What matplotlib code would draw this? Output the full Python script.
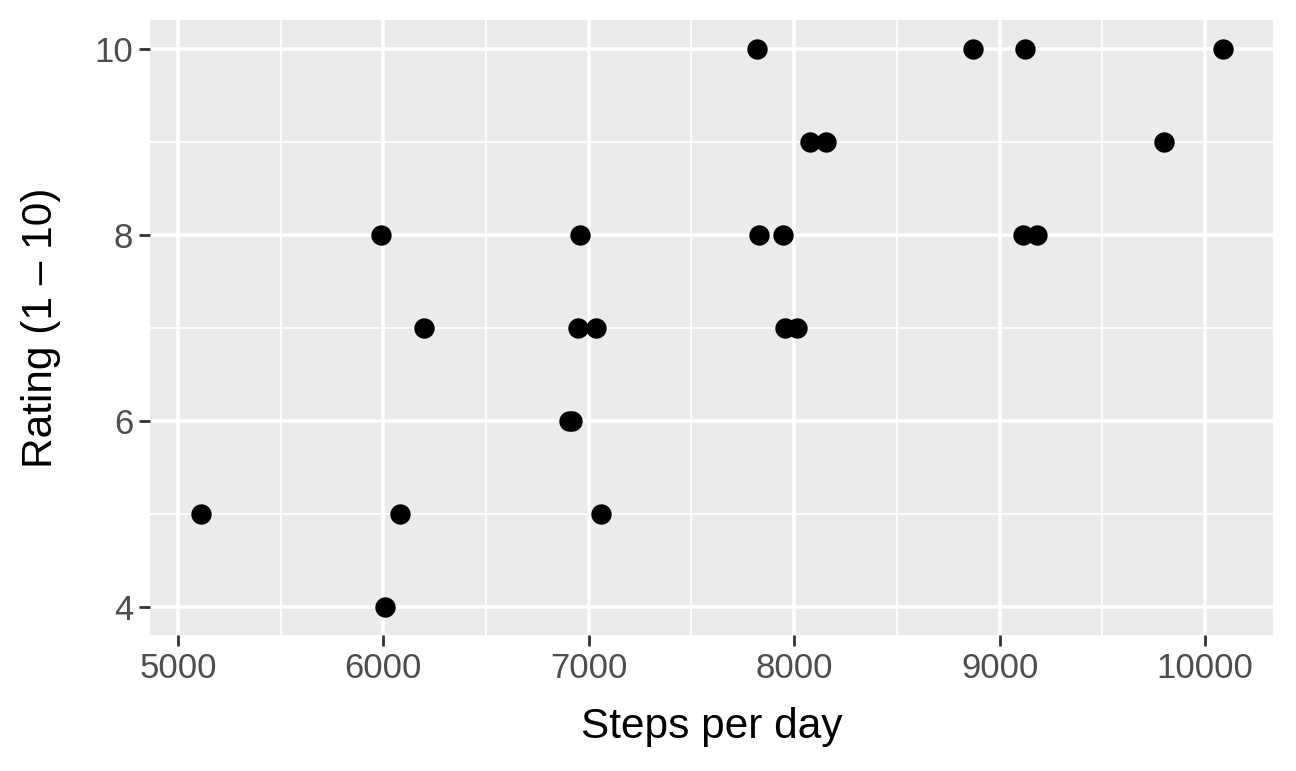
import matplotlib
matplotlib.use('Agg')
import matplotlib.pyplot as plt
from matplotlib.ticker import MultipleLocator

plt.rcParams['font.family'] = ['Liberation Sans', 'DejaVu Sans']

# steps per day vs rating
steps = [5112, 5988, 6008, 6081, 6198, 6905, 6920, 6947, 6957, 7035,
         7059, 7819, 7829, 7945, 7955, 8013, 8077, 8155, 8870, 9124,
         9114, 9182, 9800, 10087]
rating = [5, 8, 4, 5, 7, 6, 6, 7, 8, 7,
          5, 10, 8, 8, 7, 7, 9, 9, 10, 10,
          8, 8, 9, 10]

x_ticks = [5000, 6000, 7000, 8000, 9000, 10000]
y_ticks = [4, 6, 8, 10]

fig = plt.figure(figsize=(12.96, 7.71), dpi=100)
ax = fig.add_axes([150/1296, 1 - 635/771, (1273 - 150)/1296, (635 - 20)/771])
ax.set_facecolor('#EBEBEB')

ax.scatter(steps, rating, s=215, color='black', zorder=3, linewidths=0)

ax.set_xlim(4864, 10331)
ax.set_ylim(3.70, 10.31)
ax.set_xticks(x_ticks)
ax.set_yticks(y_ticks)
ax.xaxis.set_minor_locator(MultipleLocator(500))
ax.yaxis.set_minor_locator(MultipleLocator(1))

ax.grid(which='major', color='white', linewidth=2.6, zorder=0)
ax.grid(which='minor', color='white', linewidth=1.3, zorder=0)
ax.set_axisbelow(True)
for s in ax.spines.values():
    s.set_visible(False)

ax.tick_params(which='major', length=8, width=2, color='#333333',
               labelcolor='#4D4D4D', labelsize=25, pad=4)
ax.tick_params(which='minor', length=0)

ax.set_xlabel('Steps per day', fontsize=30.5, labelpad=16)
ax.set_ylabel('Rating (1 – 10)', fontsize=30.5, labelpad=24)

fig.savefig('out.png', dpi=100)
